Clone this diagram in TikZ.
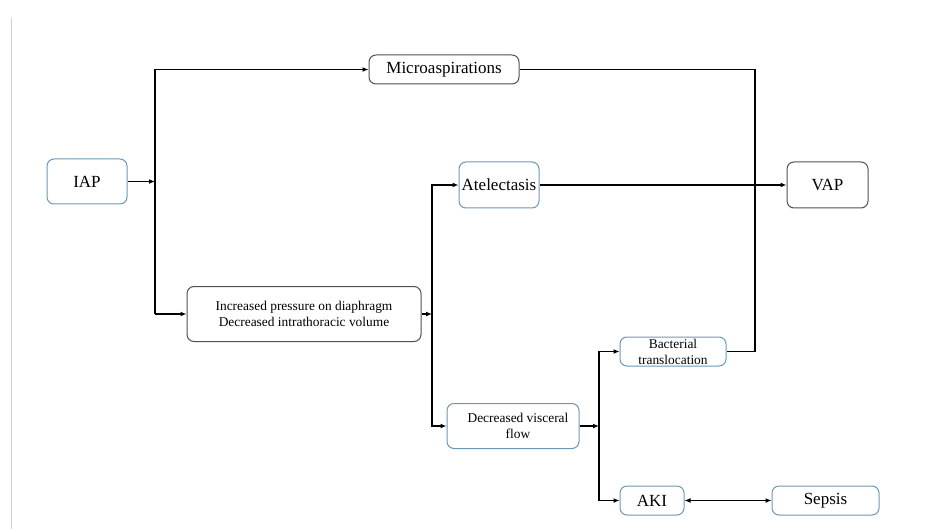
\documentclass[tikz,border=0pt]{standalone}
\usepackage{fontspec}
\setmainfont{Liberation Serif}
\usetikzlibrary{arrows.meta}
\definecolor{bluebd}{HTML}{6A98B4}
\definecolor{graybd}{HTML}{505050}
\tikzset{
  box/.style={draw, rounded corners=7pt, line width=1pt, inner sep=1pt, align=center},
  bbox/.style={box, draw=bluebd},
  kbox/.style={box, draw=graybd},
  big/.style={font=\fontsize{17}{20}\selectfont},
  small/.style={font=\fontsize{13.4}{16}\selectfont},
  conn/.style={line width=1.6pt, draw=black},
  arr/.style={conn, -{Latex[length=6pt,width=5pt]}},
  darr/.style={conn, {Latex[length=6pt,width=5pt]}-{Latex[length=6pt,width=5pt]}}
}
\begin{document}
\begin{tikzpicture}[x=1pt,y=-1pt]
\useasboundingbox (0,0) rectangle (933,529);
\draw[color=black!18, line width=1pt] (11.5,18) -- (11.5,529);

\node[bbox, big, minimum width=80pt, minimum height=45pt] (iap) at (87,181.5) {IAP};
\node[kbox, big, minimum width=150pt, minimum height=29pt] (micro) at (444,69.5) {Microaspirations};
\node[bbox, big, minimum width=80pt, minimum height=46pt] (atel) at (499,185) {Atelectasis};
\node[kbox, big, minimum width=81pt, minimum height=46pt] (vap) at (827.5,185) {VAP};
\node[kbox, small, minimum width=234pt, minimum height=55pt] (inc) at (304,314) {Increased pressure on diaphragm\\Decreased intrathoracic volume};
\node[bbox, small, minimum width=132pt, minimum height=45pt] (dvf) at (513,426) {\hspace*{10pt}Decreased visceral\\\hspace*{10pt}flow};
\node[bbox, small, minimum width=106pt, minimum height=29pt, inner sep=0pt] (bt) at (673,351.5) {Bacterial\\translocation};
\node[bbox, big, minimum width=64pt, minimum height=29pt] (aki) at (652,500.5) {AKI};
\node[bbox, big, minimum width=107pt, minimum height=29pt] (sep) at (825.5,500.5) {Sepsis};

\coordinate (j1) at (155,69.5);
\coordinate (j2) at (155,314);
\coordinate (j4) at (432,314);
\coordinate (j5) at (599,426);
\coordinate (mv) at (755,351.5);

\draw[conn] (j1) -- (j2);
\draw[arr] (iap.east) -- (iap.east -| j1);
\draw[arr] (j1) -- (micro.west);
\draw[arr] (j2) -- (inc.west);

\draw[conn] (micro.east) -| (mv) -- (bt.east);
\draw[arr] (atel.east) -- (vap.west);

\draw[arr] (inc.east) -- (j4);
\draw[arr] (j4) |- (atel.west);
\draw[arr] (j4) |- (dvf.west);

\draw[arr] (dvf.east) -- (j5);
\draw[arr] (j5) |- (bt.west);
\draw[arr] (j5) |- (aki.west);

\draw[darr] (aki.east) -- (sep.west);
\end{tikzpicture}
\end{document}
